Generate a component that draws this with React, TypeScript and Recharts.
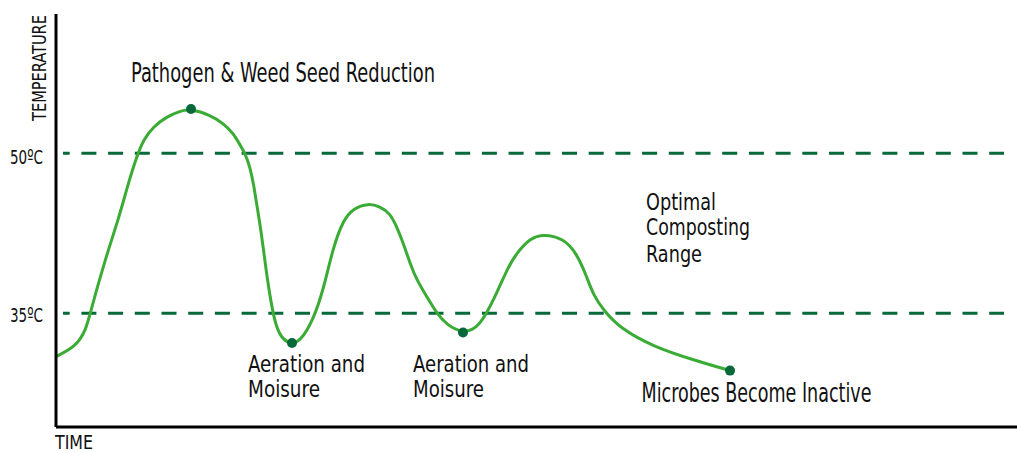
import { ComposedChart, Line, Scatter, XAxis, YAxis, ReferenceLine } from "recharts";

// time runs 0..96 across the plot, temperature in ºC
const timeSteps = [
  0, 2.0, 3.0, 3.5, 5.0, 6.23, 7.23, 8.07, 8.73, 9.73, 11.07, 12.4, 13.5, 15.4, 16.73, 17.73, 18.4, 18.9, 19.4, 19.8,
  20.0, 20.5, 21.0, 21.5, 22.0, 22.67, 23.6, 24.4, 25.73, 26.73, 27.73, 28.73, 29.73, 31.23, 32.4, 33.4, 34.07, 34.73,
  35.4, 36.07, 37.07, 38.07, 39.07, 40.7, 42.07, 43.07, 44.07, 45.23, 46.07, 47.4, 48.73, 50.73, 52.07, 53.07, 53.73,
  54.73, 56.4, 59.73, 63.73, 67.4,
];
const temperature = [
  30.93, 31.87, 33.43, 35.31, 40.31, 43.75, 47.19, 49.68, 51.25, 52.49, 53.43, 53.97, 54.15, 53.59, 52.81, 51.88, 50.78,
  50.0, 48.74, 46.87, 45.62, 42.81, 39.06, 35.97, 33.72, 32.5, 32.12, 32.34, 34.37, 37.18, 41.24, 43.75, 44.84, 45.31,
  45.0, 44.37, 43.12, 41.56, 39.69, 38.12, 36.56, 35.0, 33.9, 33.13, 33.59, 35.0, 36.87, 39.37, 40.63, 42.03, 42.43,
  42.03, 40.63, 38.43, 36.72, 35.31, 33.59, 31.87, 30.62, 29.62,
];

const markerTimes = [13.5, 23.6, 40.7, 67.4];
const markerTemps = [54.15, 32.2, 33.2, 29.62];

const rangeLimits = [50, 35];
const rangeLabels = ["50ºC", "35ºC"];

const curve = timeSteps.map((t, i) => ({ t, temp: temperature[i] }));
const markers = markerTimes.map((t, i) => ({ t, temp: markerTemps[i] }));

const FONT = "'Liberation Sans Narrow', 'DejaVu Sans Condensed', 'Noto Sans', sans-serif";
const GREEN = "#3aab35";
const DARK = "#07683a";

// annotation text: [text, x, baseline, width, size]
const notes: [string, number, number, number, number][] = [
  ["Pathogen & Weed Seed Reduction", 131, 82, 304, 27],
  ["Aeration and", 248, 371.5, 117, 23],
  ["Moisure", 248, 397, 72, 23],
  ["Aeration and", 413, 371.5, 116, 23],
  ["Moisure", 413, 397, 71, 23],
  ["Optimal", 646, 209.5, 70, 23],
  ["Composting", 646, 235, 104, 23],
  ["Range", 646, 261.5, 56, 23],
  ["Microbes Become Inactive", 641.5, 402, 230, 27],
  [rangeLabels[0], 10, 163.5, 33, 20],
  [rangeLabels[1], 10, 322, 33, 20],
  ["TIME", 55, 449, 38, 20],
];

export default function App() {
  return (
    <div style={{ position: "absolute", left: 0, top: 0, width: 1017, height: 453, background: "#fff" }}>
      <ComposedChart width={1017} height={453} margin={{ top: 14, right: 0, bottom: 0, left: 0 }}>
        <XAxis
          type="number"
          dataKey="t"
          domain={[0, 96.1]}
          allowDataOverflow
          height={26}
          tick={false}
          tickLine={false}
          axisLine={{ stroke: "#000", strokeWidth: 3 }}
        />
        <YAxis
          type="number"
          dataKey="temp"
          domain={[24.33, 63.06]}
          allowDataOverflow
          width={56}
          tick={false}
          tickLine={false}
          axisLine={{ stroke: "#000", strokeWidth: 3 }}
        />
        {rangeLimits.map((v) => (
          <ReferenceLine
            key={v}
            segment={[{ x: 0.7, y: v }, { x: 94.8, y: v }]}
            stroke={DARK}
            strokeWidth={3}
            strokeDasharray="15 11.7"
            strokeDashoffset={8.3}
          />
        ))}
        <Line
          data={curve}
          dataKey="temp"
          type="basis"
          stroke={GREEN}
          strokeWidth={3}
          dot={false}
          activeDot={false}
          isAnimationActive={false}
        />
        <Scatter
          data={markers}
          dataKey="temp"
          fill={DARK}
          isAnimationActive={false}
          shape={(p: any) => <circle cx={p.cx} cy={p.cy} r={5} fill={DARK} />}
        />
      </ComposedChart>
      <svg width={1017} height={453} style={{ position: "absolute", left: 0, top: 0, pointerEvents: "none" }}>
        <g fontFamily={FONT} fill="#111">
          {notes.map(([txt, x, y, w, s], i) => (
            <text key={i} x={x} y={y} fontSize={s} textLength={w} lengthAdjust="spacingAndGlyphs">
              {txt}
            </text>
          ))}
          <text
            transform="translate(46,121) rotate(-90)"
            fontSize={19}
            textLength={106}
            lengthAdjust="spacingAndGlyphs"
          >
            TEMPERATURE
          </text>
        </g>
      </svg>
    </div>
  );
}
